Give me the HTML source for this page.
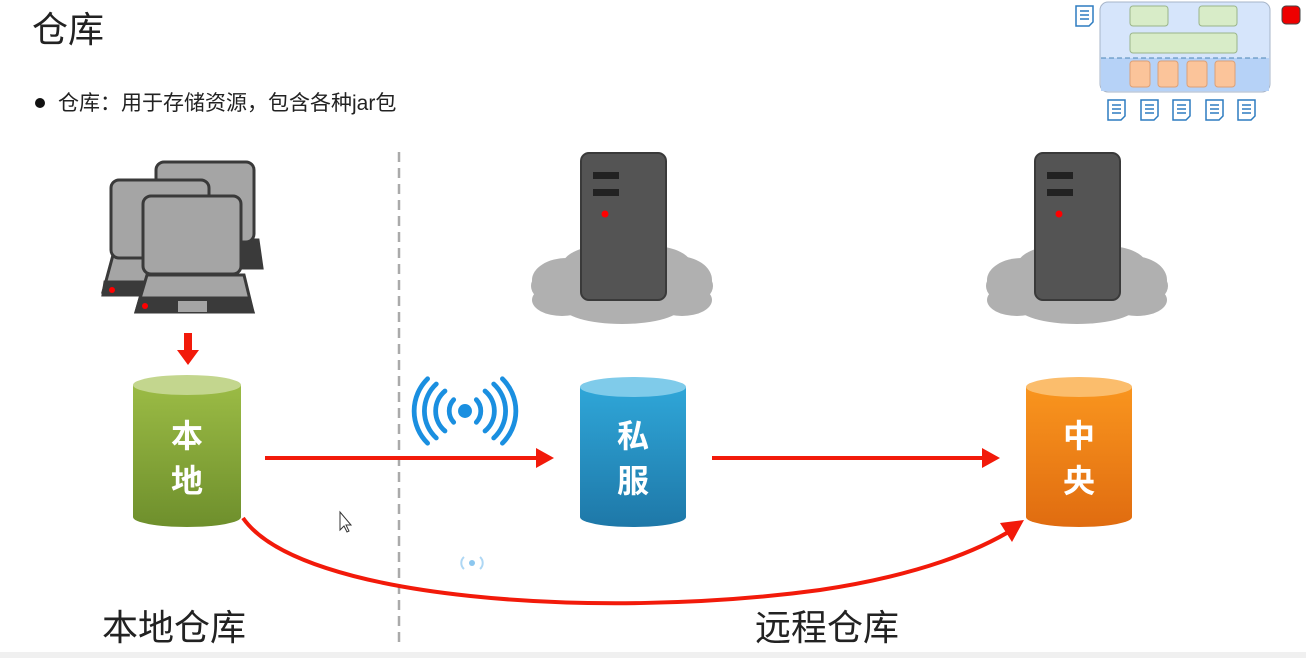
<!DOCTYPE html>
<html><head><meta charset="utf-8"><style>
body{margin:0;background:#fff;}
svg{display:block;font-family:"Liberation Sans","Noto Sans CJK SC",sans-serif;}
</style></head><body>
<svg width="1306" height="658" viewBox="0 0 1306 658" xmlns="http://www.w3.org/2000/svg">
<defs>
<linearGradient id="gG" x1="0" y1="0" x2="0" y2="1"><stop offset="0" stop-color="#9bbb45"/><stop offset="1" stop-color="#6e8f2c"/></linearGradient>
<linearGradient id="gB" x1="0" y1="0" x2="0" y2="1"><stop offset="0" stop-color="#2fa6d8"/><stop offset="1" stop-color="#1e78a8"/></linearGradient>
<linearGradient id="gO" x1="0" y1="0" x2="0" y2="1"><stop offset="0" stop-color="#f9951e"/><stop offset="1" stop-color="#e06c10"/></linearGradient>
<g id="cloud"><g fill="#b0b0b0">
<ellipse cx="0" cy="0" rx="80" ry="22"/><ellipse cx="-55" cy="-8" rx="35" ry="22"/><ellipse cx="55" cy="-8" rx="35" ry="24"/><ellipse cx="-20" cy="-22" rx="40" ry="20"/><ellipse cx="30" cy="-22" rx="40" ry="20"/><ellipse cx="-60" cy="12" rx="30" ry="16"/><ellipse cx="60" cy="12" rx="30" ry="16"/><ellipse cx="0" cy="18" rx="60" ry="18"/><ellipse cx="-75" cy="-2" rx="16" ry="14"/><ellipse cx="75" cy="-2" rx="16" ry="14"/></g></g>
<g id="server"><rect x="0" y="0" width="85" height="147" rx="8" fill="#545454" stroke="#3a3a3a" stroke-width="2"/>
<rect x="12" y="19" width="26" height="7" fill="#222"/><rect x="12" y="36" width="26" height="7" fill="#222"/><circle cx="24" cy="61" r="3.5" fill="#f00"/></g>
<g id="doc"><path d="M0,0 h17 v16 l-4,4 h-13 z" fill="#fff" stroke="#2d7cc0" stroke-width="1.5"/><path d="M4,5 h9 M4,9 h9 M4,13 h9" stroke="#2d7cc0" stroke-width="1.5"/></g>
</defs>
<text x="32" y="42" font-size="36" fill="#222">仓库</text>
<circle cx="40" cy="103" r="5" fill="#111"/>
<text x="58" y="110" font-size="21" fill="#222">仓库：用于存储资源，包含各种jar包</text>

<!-- top-right icon -->
<rect x="1100" y="2" width="170" height="90" rx="8" fill="#d6e5fb" stroke="#a7b5c9"/>
<rect x="1101" y="58" width="168" height="33" fill="#b6d2f7"/>
<line x1="1101" y1="58" x2="1269" y2="58" stroke="#4d86b5" stroke-dasharray="5,3"/>
<rect x="1130" y="6" width="38" height="20" rx="3" fill="#d8ecc8" stroke="#9ab58a"/>
<rect x="1199" y="6" width="38" height="20" rx="3" fill="#d8ecc8" stroke="#9ab58a"/>
<rect x="1130" y="33" width="107" height="20" rx="3" fill="#d8ecc8" stroke="#9ab58a"/>
<g fill="#fbc49a" stroke="#dca077"><rect x="1130" y="61" width="20" height="26" rx="3"/><rect x="1158" y="61" width="20" height="26" rx="3"/><rect x="1187" y="61" width="20" height="26" rx="3"/><rect x="1215" y="61" width="20" height="26" rx="3"/></g>
<use href="#doc" x="1076" y="6"/><use href="#doc" x="1108" y="100"/><use href="#doc" x="1141" y="100"/><use href="#doc" x="1173" y="100"/><use href="#doc" x="1206" y="100"/><use href="#doc" x="1238" y="100"/>
<rect x="1282" y="6" width="18" height="18" rx="4" fill="#e00" stroke="#444"/>

<!-- divider -->
<line x1="399" y1="152" x2="399" y2="642" stroke="#aaa" stroke-width="2.5" stroke-dasharray="10,6"/>

<!-- computers -->
<g stroke="#3a3a3a" stroke-width="3" fill="#a5a5a5">
<path d="M158,240 L258,240 L262,268 L154,268 z" fill="#3a3a3a"/>
<rect x="156" y="162" width="98" height="80" rx="8"/>
<path d="M113,255 L210,255 L214,292 L103,292 z" fill="#a5a5a5"/>
<path d="M105,282 L214,282 L214,295 L103,295 z" fill="#3a3a3a"/>
<rect x="111" y="180" width="98" height="78" rx="8"/>
<path d="M147,275 L244,275 L253,312 L136,312 z"/>
<path d="M140,298 L248,298 L253,312 L136,312 z" fill="#3a3a3a"/>
<rect x="143" y="196" width="98" height="78" rx="8"/>
</g>
<rect x="178" y="301" width="29" height="11" fill="#a5a5a5"/>
<circle cx="112" cy="290" r="3" fill="#f00"/><circle cx="145" cy="306" r="3" fill="#f00"/>
<path d="M184,333 h8 v17 h7 l-11,15 l-11,-15 h7 z" fill="#f21a0a"/>

<!-- servers -->
<use href="#cloud" x="622" y="288"/><use href="#server" x="581" y="153"/>
<use href="#cloud" x="1077" y="288"/><use href="#server" x="1035" y="153"/>

<!-- cylinders -->
<path d="M133,385 v132 a54,10 0 0 0 108,0 v-132 z" fill="url(#gG)"/>
<ellipse cx="187" cy="385" rx="54" ry="10" fill="#c3d68e"/>
<text x="187" y="447" font-size="32" font-weight="bold" fill="#fff" text-anchor="middle">本</text>
<text x="187" y="492" font-size="32" font-weight="bold" fill="#fff" text-anchor="middle">地</text>
<path d="M580,387 v130 a53,10 0 0 0 106,0 v-130 z" fill="url(#gB)"/>
<ellipse cx="633" cy="387" rx="53" ry="10" fill="#7fcbea"/>
<text x="633" y="447" font-size="32" font-weight="bold" fill="#fff" text-anchor="middle">私</text>
<text x="633" y="492" font-size="32" font-weight="bold" fill="#fff" text-anchor="middle">服</text>
<path d="M1026,387 v130 a53,10 0 0 0 106,0 v-130 z" fill="url(#gO)"/>
<ellipse cx="1079" cy="387" rx="53" ry="10" fill="#fbbd6c"/>
<text x="1079" y="447" font-size="32" font-weight="bold" fill="#fff" text-anchor="middle">中</text>
<text x="1079" y="492" font-size="32" font-weight="bold" fill="#fff" text-anchor="middle">央</text>

<!-- arrows -->
<line x1="265" y1="458" x2="540" y2="458" stroke="#f21a0a" stroke-width="4"/>
<path d="M536,448 L554,458 L536,468 z" fill="#f21a0a"/>
<line x1="712" y1="458" x2="985" y2="458" stroke="#f21a0a" stroke-width="4"/>
<path d="M982,448 L1000,458 L982,468 z" fill="#f21a0a"/>
<path d="M243,518 C300,600 600,620 820,590 C920,575 980,550 1015,528" fill="none" stroke="#f21a0a" stroke-width="4"/>
<path d="M1000,523 L1024,520 L1012,542 z" fill="#f21a0a"/>

<!-- wifi -->
<g transform="translate(465,411) scale(0.87) translate(-465,-411)">
<g fill="none" stroke="#1a8fe0" stroke-width="5.5" stroke-linecap="round">
<path d="M452,398 a19,19 0 0 0 0,26"/><path d="M478,398 a19,19 0 0 1 0,26"/>
<path d="M442,388 a30,30 0 0 0 0,46"/><path d="M488,388 a30,30 0 0 1 0,46"/>
<path d="M432,380 a42,42 0 0 0 0,62"/><path d="M498,380 a42,42 0 0 1 0,62"/>
<path d="M422,374 a52,52 0 0 0 0,74"/><path d="M508,374 a52,52 0 0 1 0,74"/>
</g>
<circle cx="465" cy="411" r="8" fill="#1a8fe0"/></g>
<g opacity="0.35" fill="none" stroke="#1a8fe0" stroke-width="2"><path d="M464,557 a8,8 0 0 0 0,12"/><path d="M480,557 a8,8 0 0 1 0,12"/></g>
<circle cx="472" cy="563" r="3" fill="#1a8fe0" opacity="0.5"/>
<path d="M340,512 v18 l4,-4 l3,6 l2,-1 l-3,-6 h5 z" fill="#fff" stroke="#333" stroke-width="1"/>

<text x="102" y="640" font-size="36" fill="#222">本地仓库</text>
<text x="755" y="640" font-size="36" fill="#222">远程仓库</text>
<rect x="0" y="652" width="1306" height="6" fill="#f0f0f0"/>
</svg>
</body></html>
